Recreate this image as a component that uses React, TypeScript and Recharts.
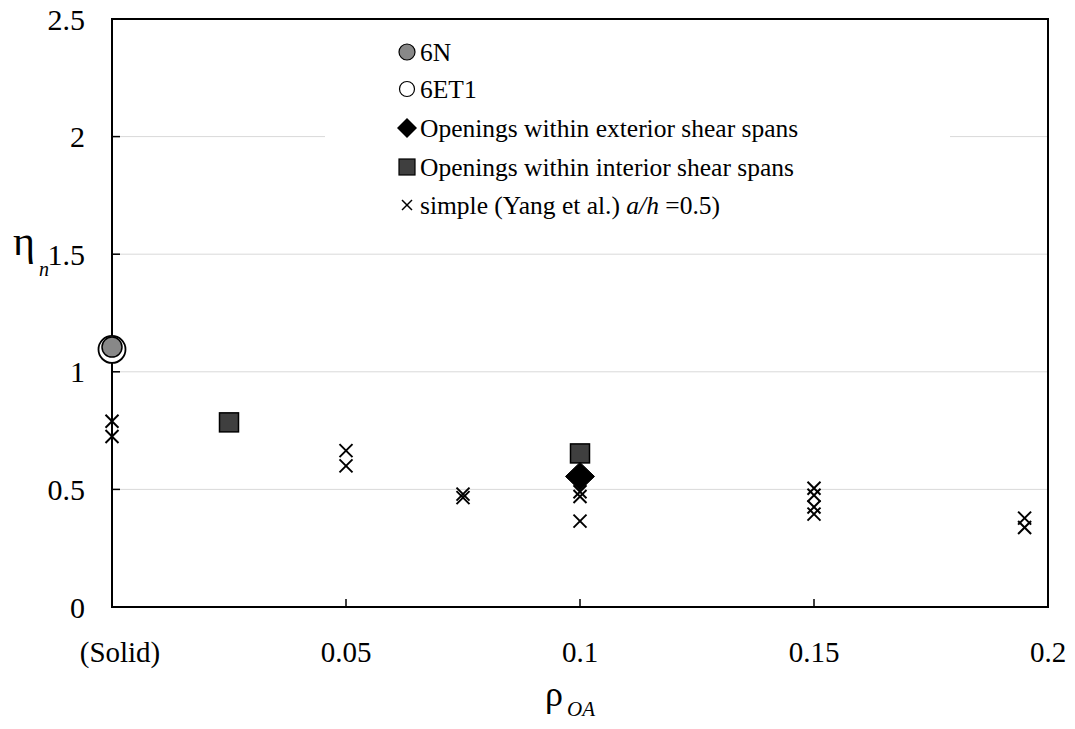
import React from 'react';
import { ScatterChart, Scatter, XAxis, YAxis, CartesianGrid, Legend, ReferenceArea, Label } from 'recharts';

const xTicks = [0, 0.05, 0.1, 0.15, 0.2];
const xTickLabels = ['(Solid)', '0.05', '0.1', '0.15', '0.2'];
const yTicks = [0, 0.5, 1, 1.5, 2, 2.5];
const yTickLabels = ['0', '0.5', '1', '1.5', '2', '2.5'];

const n6X = [0];
const n6Y = [1.105];
const et1X = [0];
const et1Y = [1.095];
const extX = [0.1];
const extY = [0.555];
const intX = [0.025, 0.1];
const intY = [0.785, 0.653];
const simpleX = [0, 0, 0.05, 0.05, 0.075, 0.075, 0.1, 0.1, 0.1, 0.15, 0.15, 0.15, 0.15, 0.195, 0.195];
const simpleY = [0.79, 0.725, 0.665, 0.6, 0.48, 0.465, 0.49, 0.47, 0.365, 0.505, 0.475, 0.425, 0.395, 0.378, 0.338];

const seriesNames = [
  '6N',
  '6ET1',
  'Openings within exterior shear spans',
  'Openings within interior shear spans',
  'simple (Yang et al.) a/h =0.5)',
];

const zip = (xs: number[], ys: number[]) => xs.map((x, i) => ({ x, y: ys[i] }));

const FONT = '"Liberation Serif", "Times New Roman", serif';

const GrayCircle = (p: any) => <circle cx={p.cx} cy={p.cy} r={10} fill="#888888" stroke="#000" strokeWidth={1.5} />;
const OpenCircle = (p: any) => <circle cx={p.cx} cy={p.cy} r={13.5} fill="#fff" stroke="#000" strokeWidth={1.8} />;
const Diamond = (p: any) => (
  <polygon
    points={`${p.cx},${p.cy - 14} ${p.cx + 14.5},${p.cy} ${p.cx},${p.cy + 14} ${p.cx - 14.5},${p.cy}`}
    fill="#000"
    stroke="#000"
    strokeWidth={1}
  />
);
const Square = (p: any) => (
  <rect x={p.cx - 9.5} y={p.cy - 9.5} width={19} height={19} fill="#3f3f3f" stroke="#000" strokeWidth={1.5} />
);
const XMark = (p: any) => (
  <g stroke="#000" strokeWidth={2}>
    <line x1={p.cx - 6.5} y1={p.cy - 6.5} x2={p.cx + 6.5} y2={p.cy + 6.5} />
    <line x1={p.cx - 6.5} y1={p.cy + 6.5} x2={p.cx + 6.5} y2={p.cy - 6.5} />
  </g>
);

const legendRows = [52, 89, 128, 167, 205];

const LegendBox = () => {
  const sx = 82;
  const tx = 95;
  const ry = legendRows.map((r) => r - 25);
  return (
    <svg width={625} height={207} style={{ display: 'block' }}>
      <rect x={0} y={0} width={625} height={207} fill="#fff" />
      <circle cx={sx} cy={ry[0]} r={8} fill="#888888" stroke="#000" strokeWidth={1.2} />
      <circle cx={sx} cy={ry[1]} r={7.5} fill="#fff" stroke="#000" strokeWidth={1.2} />
      <polygon points={`${sx},${ry[2] - 10} ${sx + 10},${ry[2]} ${sx},${ry[2] + 10} ${sx - 10},${ry[2]}`} fill="#000" />
      <rect x={sx - 8} y={ry[3] - 8} width={16} height={16} fill="#3f3f3f" stroke="#000" strokeWidth={1.2} />
      <g stroke="#000" strokeWidth={1.5}>
        <line x1={sx - 5} y1={ry[4] - 5} x2={sx + 5} y2={ry[4] + 5} />
        <line x1={sx - 5} y1={ry[4] + 5} x2={sx + 5} y2={ry[4] - 5} />
      </g>
      {seriesNames.slice(0, 4).map((n, i) => (
        <text key={n} x={tx} y={ry[i]} dy="0.35em" fontSize={25.5} fontFamily={FONT} fill="#000">
          {n}
        </text>
      ))}
      <text x={tx} y={ry[4]} dy="0.35em" fontSize={25.5} fontFamily={FONT} fill="#000">
        simple (Yang et al.) <tspan fontStyle="italic">a/h</tspan> =0.5)
      </text>
    </svg>
  );
};

const XTick = (p: any) => {
  const i = xTicks.indexOf(p.payload.value);
  return (
    <text x={p.x + (i === 0 ? 8 : 0)} y={p.y} dy="0.71em" textAnchor="middle" fontSize={29} fontFamily={FONT} fill="#000">
      {xTickLabels[i]}
    </text>
  );
};

const YTick = (p: any) => {
  const i = yTicks.indexOf(p.payload.value);
  return (
    <text x={p.x} y={p.y} dy="0.35em" textAnchor="end" fontSize={30} fontFamily={FONT} fill="#000">
      {yTickLabels[i]}
    </text>
  );
};

const YTitle = (p: any) => {
  const vb = p.viewBox;
  return (
    <text x={vb.x + 13} y={255} fontSize={42} fontFamily={FONT} fill="#000">
      η
      <tspan dx={4} dy={21} fontSize={20} fontStyle="italic">n</tspan>
    </text>
  );
};

const XTitle = () => (
  <text x={545} y={706} fontSize={36} fontFamily={FONT} fill="#000">
    ρ
    <tspan dx={4} dy={10} fontSize={21} fontStyle="italic">OA</tspan>
  </text>
);

export default function App() {
  return (
    <div style={{ position: 'absolute', left: 0, top: 0, width: 1075, height: 729, background: '#fff' }}>
      <ScatterChart width={1075} height={729} margin={{ top: 19, right: 27, bottom: 0, left: 0 }}>
        <CartesianGrid vertical={false} stroke="#d9d9d9" strokeWidth={1} />
        <XAxis
          type="number"
          dataKey="x"
          domain={[0, 0.2]}
          ticks={xTicks}
          height={122}
          tickSize={-8}
          tickMargin={42}
          axisLine={{ stroke: '#000', strokeWidth: 2 }}
          tickLine={{ stroke: '#000', strokeWidth: 1.5 }}
          tick={<XTick />}
          interval={0}
        >
          <Label content={<XTitle />} />
        </XAxis>
        <YAxis
          type="number"
          dataKey="y"
          domain={[0, 2.5]}
          ticks={yTicks}
          width={112}
          tickSize={-8}
          tickMargin={35}
          axisLine={{ stroke: '#000', strokeWidth: 2 }}
          tickLine={{ stroke: '#000', strokeWidth: 1.5 }}
          tick={<YTick />}
          interval={0}
        >
          <Label content={<YTitle />} />
        </YAxis>
        <ReferenceArea x1={0} x2={0.2} y1={0} y2={2.5} fill="none" stroke="#000" strokeWidth={2} ifOverflow="visible" />
        <Legend
          layout="vertical"
          align="center"
          verticalAlign="middle"
          content={<LegendBox />}
          wrapperStyle={{ left: 325, top: 25, width: 625, height: 207 }}
        />
        <Scatter name={seriesNames[4]} data={zip(simpleX, simpleY)} shape={<XMark />} isAnimationActive={false} />
        <Scatter name={seriesNames[1]} data={zip(et1X, et1Y)} shape={<OpenCircle />} isAnimationActive={false} />
        <Scatter name={seriesNames[0]} data={zip(n6X, n6Y)} shape={<GrayCircle />} isAnimationActive={false} />
        <Scatter name={seriesNames[3]} data={zip(intX, intY)} shape={<Square />} isAnimationActive={false} />
        <Scatter name={seriesNames[2]} data={zip(extX, extY)} shape={<Diamond />} isAnimationActive={false} />
      </ScatterChart>
    </div>
  );
}
